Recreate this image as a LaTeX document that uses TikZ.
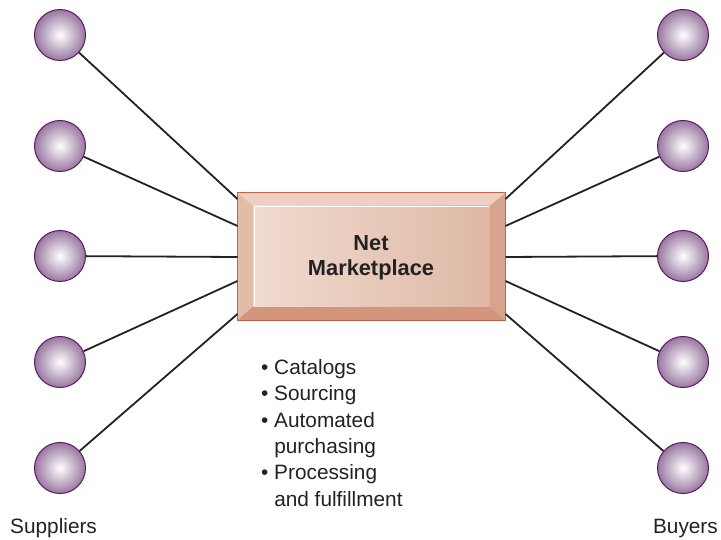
\documentclass[tikz,border=0pt]{standalone}
\usepackage{fontspec}
\setmainfont{Liberation Sans}
\definecolor{boxborder}{HTML}{C4604C}
\definecolor{bevtop}{HTML}{EDD0C1}
\definecolor{bevleft}{HTML}{E3BCA8}
\definecolor{bevright}{HTML}{D8A48D}
\definecolor{bevbottom}{HTML}{D4957D}
\definecolor{faceL}{HTML}{F0DBCF}
\definecolor{faceR}{HTML}{DFB8A5}
\definecolor{ballout}{HTML}{9877A0}
\definecolor{ballrim}{HTML}{5E1A62}
\definecolor{linecol}{HTML}{222222}
\begin{document}
\begin{tikzpicture}[x=1pt,y=-1pt,
  ball/.style={circle,minimum size=51pt,inner sep=0pt,draw=ballrim,line width=1pt,
    inner color=white,outer color=ballout},
  link/.style={draw=linecol,line width=1.8pt},
  lbl/.style={inner sep=0pt,font=\fontsize{20.8}{26.4}\selectfont,text=linecol}]
\useasboundingbox (0,0) rectangle (721,540);
% box
\node[rectangle,minimum width=268pt,minimum height=127pt,inner sep=0pt] (box) at (371.5,256.5) {};
\fill[bevtop] (box.north west) -- (box.north east) -- ([xshift=-16pt,yshift=-13pt]box.north east) -- ([xshift=16pt,yshift=-13pt]box.north west) -- cycle;
\fill[bevleft] (box.north west) -- ([xshift=16pt,yshift=-13pt]box.north west) -- ([xshift=16pt,yshift=14pt]box.south west) -- (box.south west) -- cycle;
\fill[bevright] (box.north east) -- ([xshift=-16pt,yshift=-13pt]box.north east) -- ([xshift=-16pt,yshift=14pt]box.south east) -- (box.south east) -- cycle;
\fill[bevbottom] (box.south west) -- ([xshift=16pt,yshift=14pt]box.south west) -- ([xshift=-16pt,yshift=14pt]box.south east) -- (box.south east) -- cycle;
\shade[left color=faceL,right color=faceR] ([xshift=16pt,yshift=-13pt]box.north west) rectangle ([xshift=-16pt,yshift=14pt]box.south east);
\draw[white,line width=1pt] ([xshift=17pt,yshift=14pt]box.south west) -- ([xshift=17pt,yshift=-14pt]box.north west) -- ([xshift=-17pt,yshift=-14pt]box.north east);
\draw[boxborder,line width=1.3pt] (box.north west) rectangle (box.south east);
\node[align=center,inner sep=0pt,text=linecol,font=\fontsize{21.8}{25}\selectfont\bfseries] (title) at (371,258) {Net\\Marketplace};
% coordinates on box edges
\coordinate (L1) at (237.5,199);
\coordinate (L2) at (237.5,226);
\coordinate (L3) at (237.5,257);
\coordinate (L4) at (237.5,281);
\coordinate (L5) at (237.5,314);
\coordinate (R1) at (505.5,199);
\coordinate (R2) at (505.5,226);
\coordinate (R3) at (505.5,257);
\coordinate (R4) at (505.5,281);
\coordinate (R5) at (505.5,314);
% balls
\node[ball] (s1) at (60,35) {};
\node[ball] (s2) at (60,146) {};
\node[ball] (s3) at (60,256) {};
\node[ball] (s4) at (60,362) {};
\node[ball] (s5) at (60,468) {};
\node[ball] (b1) at (683,35) {};
\node[ball] (b2) at (683,146) {};
\node[ball] (b3) at (683,256) {};
\node[ball] (b4) at (683,362) {};
\node[ball] (b5) at (683,468) {};
\foreach \i in {1,...,5}{
  \draw[link] (s\i) -- (L\i);
  \draw[link] (b\i) -- (R\i);
}
% list
\node[lbl,align=left,anchor=north west] (list) at (261,359) {•\ Catalogs\\•\ Sourcing\\•\ Automated\\\phantom{•\ }purchasing\\•\ Processing\\\phantom{•\ }and fulfillment};
\node[lbl,anchor=base west] (sup) at (10,533) {Suppliers};
\node[lbl,anchor=base east] (buy) at (718,533) {Buyers};
\end{tikzpicture}
\end{document}
